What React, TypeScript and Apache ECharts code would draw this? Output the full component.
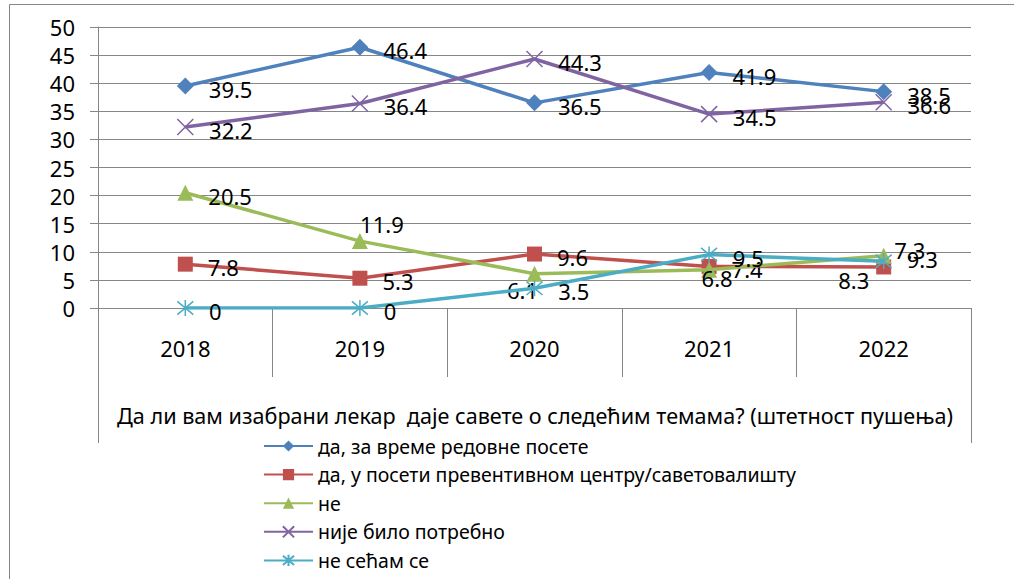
import React, { useEffect, useRef } from 'react';
import * as echarts from 'echarts';

const categories = ['2018', '2019', '2020', '2021', '2022'];
const seriesNames = [
  'да, за време редовне посете',
  'да, у посети превентивном центру/саветовалишту',
  'не',
  'није било потребно',
  'не сећам се',
];
const regularVisit = [39.5, 46.4, 36.5, 41.9, 38.5];
const preventiveCenter = [7.8, 5.3, 9.6, 7.4, 7.3];
const answerNo = [20.5, 11.9, 6.1, 6.8, 9.3];
const notNeeded = [32.2, 36.4, 44.3, 34.5, 36.6];
const dontRemember = [0, 0, 3.5, 9.5, 8.3];
const yMin = 0;
const yMax = 50;
const yStep = 5;
const titleText = 'Да ли вам изабрани лекар  даје савете о следећим темама? (штетност пушења)';

const FONT = "'Noto Sans', 'DejaVu Sans', sans-serif";
const GRAY = '#868686';
const colors = ['#4F81BD', '#C0504D', '#9BBB59', '#8064A2', '#4BACC6'];
const symbols = [
  'diamond',
  'rect',
  'triangle',
  'path://M0,0L10,10M10,0L0,10',
  'path://M0,0L10,10M10,0L0,10M5,-1L5,11',
];
const symbolSizes = [17, 15, 16, 16, 16];

// label placement tweaks per series / point (styling only)
const labelTweaks: Record<number, Record<number, any>> = {
  1: { 4: { position: 'right', offset: [-12, -17] } },
  2: {
    1: { position: 'top', distance: 0, offset: [22, 2] },
    2: { position: 'bottom', distance: 0, offset: [-12, -3] },
    3: { position: 'bottom', distance: 0, offset: [8, -11] },
  },
  4: { 4: { position: 'bottom', distance: 0, offset: [-30, -1] } },
};

export default function App() {
  const ref = useRef<HTMLDivElement>(null);
  useEffect(() => {
    if (!ref.current) return;
    const chart = echarts.init(ref.current, undefined, { renderer: 'svg' });
    const allValues = [regularVisit, preventiveCenter, answerNo, notNeeded, dontRemember];
    const series = allValues.map((vals, si) => {
      const isStroke = si >= 3;
      return {
        name: seriesNames[si],
        type: 'line',
        data: vals.map((v, i) => {
          const t = labelTweaks[si] && labelTweaks[si][i];
          return t ? { value: v, label: t } : v;
        }),
        symbol: symbols[si],
        symbolSize: symbolSizes[si],
        showAllSymbol: true,
        lineStyle: { color: colors[si], width: 3.5 },
        itemStyle: isStroke
          ? { color: colors[si], borderColor: colors[si], borderWidth: 1.5 }
          : { color: colors[si] },
        label: {
          show: true,
          position: 'right',
          distance: 15,
          offset: [0, 3],
          fontSize: 22,
          fontFamily: FONT,
          color: '#000',
        },
        emphasis: { disabled: true },
        z: 2 + si,
      };
    });
    chart.setOption({
      animation: false,
      backgroundColor: '#fff',
      textStyle: { fontFamily: FONT },
      title: {
        text: titleText,
        left: 535,
        top: 404,
        textAlign: 'center',
        padding: 0,
        textStyle: { fontSize: 21.6, fontWeight: 'normal', color: '#000', fontFamily: FONT },
      },
      legend: {
        orient: 'vertical',
        left: 263,
        top: 436,
        padding: 0,
        itemWidth: 49,
        itemHeight: 14,
        itemGap: 8.6,
        selectedMode: false,
        data: seriesNames,
        textStyle: { fontSize: 19.5, lineHeight: 20, color: '#000', fontFamily: FONT },
      },
      grid: { left: 98, right: 43, top: 27, bottom: 271 },
      xAxis: {
        type: 'category',
        data: categories,
        boundaryGap: true,
        axisLine: { show: true, lineStyle: { color: GRAY, width: 1 } },
        axisTick: { show: true, length: 69, interval: 0, alignWithLabel: false, lineStyle: { color: GRAY } },
        axisLabel: { fontSize: 22, color: '#000', margin: 29, fontFamily: FONT, interval: 0 },
        splitLine: { show: false },
      },
      yAxis: {
        type: 'value',
        min: yMin,
        max: yMax,
        interval: yStep,
        axisLine: { show: true, lineStyle: { color: GRAY, width: 1 } },
        axisTick: { show: true, length: 8, lineStyle: { color: GRAY } },
        axisLabel: { fontSize: 22, color: '#000', margin: 23, fontFamily: FONT },
        splitLine: { show: true, lineStyle: { color: GRAY, width: 1 } },
      },
      graphic: [
        {
          type: 'rect',
          silent: true,
          shape: { x: 9.5, y: 4.5, width: 1010, height: 600 },
          style: { fill: 'none', stroke: GRAY, lineWidth: 1 },
        },
        {
          type: 'line',
          silent: true,
          shape: { x1: 98.5, y1: 376, x2: 98.5, y2: 443 },
          style: { stroke: GRAY, lineWidth: 1 },
        },
        {
          type: 'line',
          silent: true,
          shape: { x1: 971.5, y1: 376, x2: 971.5, y2: 443 },
          style: { stroke: GRAY, lineWidth: 1 },
        },
      ],
      series,
    });
    return () => chart.dispose();
  }, []);
  return (
    <div
      ref={ref}
      style={{ position: 'fixed', left: 0, top: 0, width: 1014, height: 579, background: '#fff' }}
    />
  );
}
